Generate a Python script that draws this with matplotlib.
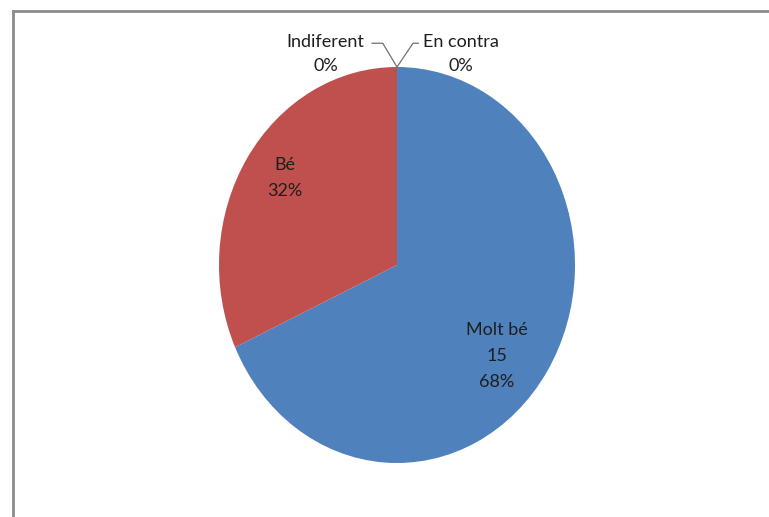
import matplotlib
matplotlib.use("Agg")
import matplotlib.pyplot as plt

categories = ['Molt bé', 'Bé', 'Indiferent', 'En contra']
values = [15, 7, 0, 0]
percents = ['68%', '32%', '0%', '0%']
colors = ['#4F81BD', '#C0504D', '#9BBB59', '#8064A2']

plt.rcParams['font.family'] = ['Lato', 'DejaVu Sans']

fig = plt.figure(figsize=(7.69, 5.17), dpi=100)
fig.patch.set_facecolor('white')

# marc gris (només vora superior i esquerra visibles)
fig.add_artist(plt.Line2D([13 / 769, 13 / 769], [0, 1 - 11 / 517], transform=fig.transFigure,
                          color='#8c8c8c', lw=2))
fig.add_artist(plt.Line2D([13 / 769, 1], [1 - 11 / 517, 1 - 11 / 517], transform=fig.transFigure,
                          color='#8c8c8c', lw=2))

# el pastís de l'original està lleugerament estirat verticalment
ax = fig.add_axes([219 / 769, 54 / 517, 356 / 769, 396 / 517])
wedges, _ = ax.pie(values, colors=colors, startangle=90, counterclock=False,
                   wedgeprops=dict(linewidth=0))
ax.set_aspect('auto')
ax.set_xlim(-1, 1)
ax.set_ylim(-1, 1)
ax.axis('off')

fs = 13
tc = '#1e1e1e'
# etiquetes dins de les porcions
ax.text(0.56, -0.46, f"{categories[0]}\n{values[0]}\n{percents[0]}", ha='center', va='center',
        fontsize=fs, color=tc, linespacing=1.75)
ax.text(-0.63, 0.44, f"{categories[1]}\n{percents[1]}", ha='center', va='center',
        fontsize=fs, color=tc, linespacing=1.75)

# etiquetes de les porcions buides amb línia guia
ax.text(-0.4, 1.065, f"{categories[2]}\n{percents[2]}", ha='center', va='center',
        fontsize=fs, color=tc, linespacing=1.6, clip_on=False)
ax.text(0.36, 1.065, f"{categories[3]}\n{percents[3]}", ha='center', va='center',
        fontsize=fs, color=tc, linespacing=1.6, clip_on=False)
ax.plot([-0.14, -0.08, 0.0], [1.12, 1.12, 1.0], color='#707070', lw=0.9, clip_on=False)
ax.plot([0.12, 0.09, 0.0], [1.12, 1.12, 1.0], color='#707070', lw=0.9, clip_on=False)

fig.savefig('out.png', dpi=100)
